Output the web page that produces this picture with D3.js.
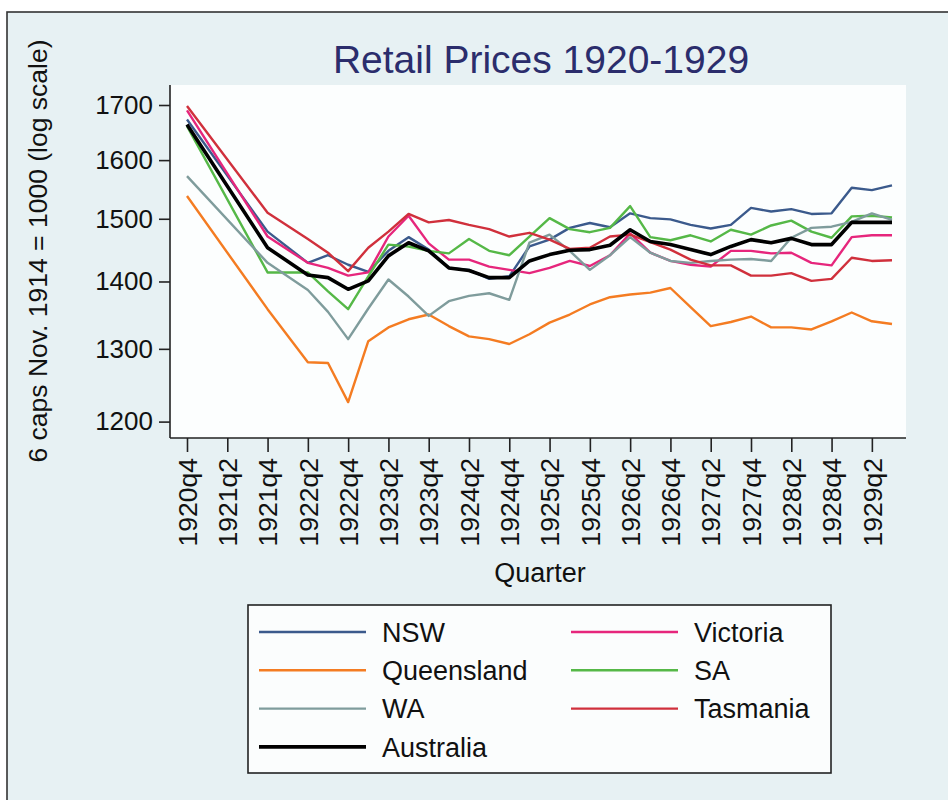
<!DOCTYPE html>
<html>
<head>
<meta charset="utf-8">
<script src="https://cdn.jsdelivr.net/npm/d3@7"></script>
<style>
  html, body { margin: 0; padding: 0; background: #fff; }
  svg text { font-family: "Liberation Sans", Arial, Helvetica, sans-serif; }
</style>
</head>
<body>
<svg id="chart" width="948" height="800"></svg>
<script>
// quarters 1920q4 .. 1929q3 ; null = no observation (line joins the observed points)
const quarters = [
  '1920q4',
  '1921q1', '1921q2', '1921q3', '1921q4',
  '1922q1', '1922q2', '1922q3', '1922q4',
  '1923q1', '1923q2', '1923q3', '1923q4',
  '1924q1', '1924q2', '1924q3', '1924q4',
  '1925q1', '1925q2', '1925q3', '1925q4',
  '1926q1', '1926q2', '1926q3', '1926q4',
  '1927q1', '1927q2', '1927q3', '1927q4',
  '1928q1', '1928q2', '1928q3', '1928q4',
  '1929q1', '1929q2', '1929q3'
];

const nsw = [1673, null, null, null, 1479, null, 1429, 1441, 1426, 1415, 1448, 1470, 1450, 1421, 1418, 1404, 1408, 1455, 1466, 1485, 1493, 1486, 1509, 1501, 1499, 1490, 1484, 1490, 1518, 1512, 1516, 1508, 1509, 1552, 1548, 1556];
const victoria = [1690, null, null, null, 1471, null, 1429, 1421, 1409, 1414, 1471, 1505, 1460, 1434, 1434, 1423, 1418, 1413, 1421, 1432, 1424, 1441, 1476, 1445, 1432, 1426, 1423, 1448, 1448, 1444, 1445, 1429, 1425, 1470, 1473, 1473];
const queensland = [1538, null, null, null, 1358, null, 1281, 1280, 1226, 1311, 1331, 1343, 1350, 1333, 1318, 1314, 1307, 1321, 1338, 1350, 1365, 1376, 1380, 1383, 1390, 1361, 1333, 1339, 1347, 1331, 1331, 1328, 1340, 1353, 1340, 1336];
const sa = [1661, null, null, null, 1414, null, 1414, 1385, 1358, 1408, 1458, 1455, 1448, 1444, 1467, 1448, 1441, 1471, 1501, 1483, 1478, 1485, 1521, 1470, 1465, 1473, 1463, 1482, 1474, 1489, 1497, 1479, 1469, 1504, 1505, 1502];
const wa = [1572, null, null, null, 1429, null, 1387, 1354, 1314, 1359, 1403, 1377, 1348, 1370, 1378, 1382, 1372, 1461, 1474, 1448, 1418, 1441, 1470, 1445, 1432, 1429, 1432, 1434, 1435, 1432, 1469, 1485, 1487, 1495, 1509, 1498];
const tasmania = [1698, null, null, null, 1510, null, 1467, 1445, 1416, 1453, 1479, 1508, 1494, 1498, 1490, 1483, 1471, 1477, 1466, 1451, 1453, 1471, 1474, 1462, 1450, 1434, 1425, 1425, 1409, 1409, 1413, 1401, 1404, 1437, 1432, 1433];
const australia = [1664, null, null, null, 1453, null, 1410, 1406, 1388, 1401, 1440, 1461, 1448, 1421, 1417, 1406, 1406, 1432, 1442, 1449, 1450, 1457, 1482, 1463, 1458, 1450, 1442, 1455, 1466, 1461, 1468, 1458, 1458, 1494, 1494, 1494];

const seriesNames = ['NSW', 'Victoria', 'Queensland', 'SA', 'WA', 'Tasmania', 'Australia'];
const seriesValues = [nsw, victoria, queensland, sa, wa, tasmania, australia];
const seriesColors = ['#3b5a8c', '#e6267c', '#f47c22', '#55b847', '#7f9c9c', '#d0303c', '#000000'];
const seriesWidths = [2.4, 2.4, 2.4, 2.4, 2.4, 2.4, 3.6];

const yTicks = [1200, 1300, 1400, 1500, 1600, 1700];

const svg = d3.select('#chart');

// outer frame
svg.append('rect')
  .attr('x', 7).attr('y', 12)
  .attr('width', 960).attr('height', 800)
  .attr('fill', '#e7f1f3')
  .attr('stroke', '#333').attr('stroke-width', 1.6);

// plot region
const L = 170, R = 906, T = 85, B = 438;
svg.append('rect')
  .attr('x', L).attr('y', T)
  .attr('width', R - L).attr('height', B - T)
  .attr('fill', '#fcfefe');

const x = d3.scaleLinear().domain([0, quarters.length - 1]).range([187, 892]);
const y = d3.scaleLog().domain([1200, 1700]).range([421.6, 105]);

// y axis
const yAxis = svg.append('g')
  .attr('transform', `translate(${L},0)`)
  .call(d3.axisLeft(y).tickValues(yTicks).tickFormat(d3.format('d')).tickSize(11).tickPadding(6));
yAxis.select('.domain').attr('d', `M0,${T}V${B}`).attr('stroke', '#222').attr('stroke-width', 1.6);
yAxis.selectAll('.tick line').attr('stroke', '#222').attr('stroke-width', 1.6);
yAxis.selectAll('.tick text')
  .attr('font-size', '26px')
  .attr('fill', '#111');

// x axis
const xAxis = svg.append('g')
  .attr('transform', `translate(0,${B})`)
  .call(d3.axisBottom(x)
    .tickValues(d3.range(0, quarters.length, 2))
    .tickFormat(i => quarters[i])
    .tickSize(14));
xAxis.select('.domain').attr('d', `M${L},0H${R}`).attr('stroke', '#222').attr('stroke-width', 1.6);
xAxis.selectAll('.tick line').attr('stroke', '#222').attr('stroke-width', 1.6);
xAxis.selectAll('.tick text')
  .attr('font-size', '26.5px')
  .attr('fill', '#111')
  .attr('transform', 'rotate(-90)')
  .attr('text-anchor', 'end')
  .attr('x', -20)
  .attr('y', 0)
  .attr('dy', '0.35em');

// lines
const line = d3.line()
  .x(d => x(d.i))
  .y(d => y(d.v));

seriesValues.forEach((vals, k) => {
  const pts = vals.map((v, i) => ({ i, v })).filter(d => d.v != null);
  svg.append('path')
    .datum(pts)
    .attr('d', line)
    .attr('fill', 'none')
    .attr('stroke', seriesColors[k])
    .attr('stroke-width', seriesWidths[k])
    .attr('stroke-linejoin', 'round');
});

// titles
svg.append('text')
  .text('Retail Prices 1920-1929')
  .attr('x', 541).attr('y', 73)
  .attr('text-anchor', 'middle')
  .attr('font-size', '39px')
  .attr('fill', '#2b2d6c');

svg.append('text')
  .text('Quarter')
  .attr('x', 540).attr('y', 582)
  .attr('text-anchor', 'middle')
  .attr('font-size', '27px')
  .attr('fill', '#111');

svg.append('text')
  .text('6 caps Nov. 1914 = 1000 (log scale)')
  .attr('transform', 'translate(47,251) rotate(-90)')
  .attr('text-anchor', 'middle')
  .attr('font-size', '26.5px')
  .attr('fill', '#111');

// legend
const legend = svg.append('g');
legend.append('rect')
  .attr('x', 248).attr('y', 605)
  .attr('width', 583).attr('height', 168)
  .attr('fill', '#fbfdfd')
  .attr('stroke', '#222').attr('stroke-width', 1.6);

const colX = [259, 571];
seriesNames.forEach((name, k) => {
  const cx = colX[k % 2];
  const cy = 632 + Math.floor(k / 2) * 38.3;
  const row = legend.append('g').attr('transform', `translate(${cx},${cy})`);
  row.append('line')
    .attr('x1', 0).attr('x2', 107)
    .attr('stroke', seriesColors[k])
    .attr('stroke-width', seriesWidths[k]);
  row.append('text')
    .text(name)
    .attr('x', 123)
    .attr('dy', '0.36em')
    .attr('font-size', '27px')
    .attr('fill', '#111');
});
</script>
</body>
</html>
